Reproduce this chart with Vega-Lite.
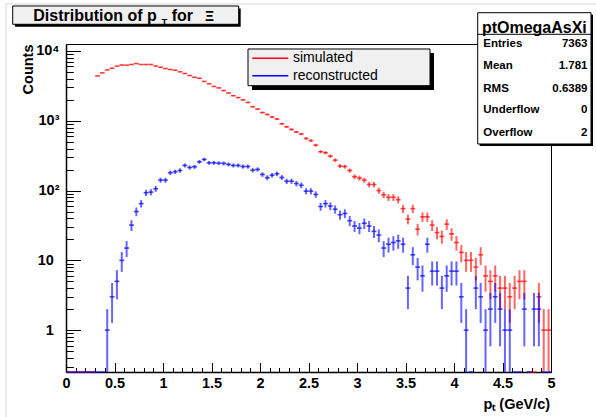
{
"$schema": "https://vega.github.io/schema/vega-lite/v6.json",
"width": 485, "height": 328,
"autosize": {"type": "none"},
"padding": {"left": 66, "top": 44, "right": 45, "bottom": 45},
"background": "white",
"config": {
  "view": {"stroke": "black", "strokeWidth": 1},
  "axis": {"grid": false, "labelFont": "Liberation Sans", "titleFont": "Liberation Sans", "labelColor": "black", "titleColor": "black", "domainColor": "black", "tickColor": "black", "labelFlush": false, "labelOverlap": false},
  "text": {"font": "Liberation Sans", "color": "black"}
},
"datasets": {
"sim": [{"pt":0.025,"n":0},{"pt":0.075,"n":0},{"pt":0.125,"n":0},{"pt":0.175,"n":0},{"pt":0.225,"n":0},{"pt":0.275,"n":0},{"pt":0.325,"n":4400},{"pt":0.375,"n":4850},{"pt":0.425,"n":5350},{"pt":0.475,"n":5650},{"pt":0.525,"n":6050},{"pt":0.575,"n":6300},{"pt":0.625,"n":6250},{"pt":0.675,"n":6400},{"pt":0.725,"n":6600},{"pt":0.775,"n":6400},{"pt":0.825,"n":6400},{"pt":0.875,"n":6400},{"pt":0.925,"n":6100},{"pt":0.975,"n":5850},{"pt":1.025,"n":5600},{"pt":1.075,"n":5420},{"pt":1.125,"n":5300},{"pt":1.175,"n":5030},{"pt":1.225,"n":4760},{"pt":1.275,"n":4450},{"pt":1.325,"n":4200},{"pt":1.375,"n":4060},{"pt":1.425,"n":3660},{"pt":1.475,"n":3390},{"pt":1.525,"n":3100},{"pt":1.575,"n":2960},{"pt":1.625,"n":2710},{"pt":1.675,"n":2500},{"pt":1.725,"n":2290},{"pt":1.775,"n":2150},{"pt":1.825,"n":1990},{"pt":1.875,"n":1830},{"pt":1.925,"n":1590},{"pt":1.975,"n":1470},{"pt":2.025,"n":1310},{"pt":2.075,"n":1230},{"pt":2.125,"n":1130},{"pt":2.175,"n":1060},{"pt":2.225,"n":906},{"pt":2.275,"n":820},{"pt":2.325,"n":751},{"pt":2.375,"n":690},{"pt":2.425,"n":646},{"pt":2.475,"n":558},{"pt":2.525,"n":520},{"pt":2.575,"n":447},{"pt":2.625,"n":360},{"pt":2.675,"n":348},{"pt":2.725,"n":311},{"pt":2.775,"n":273},{"pt":2.825,"n":224},{"pt":2.875,"n":221},{"pt":2.925,"n":194},{"pt":2.975,"n":158},{"pt":3.025,"n":151},{"pt":3.075,"n":141},{"pt":3.125,"n":122},{"pt":3.175,"n":122},{"pt":3.225,"n":100},{"pt":3.275,"n":87},{"pt":3.325,"n":80},{"pt":3.375,"n":80},{"pt":3.425,"n":74},{"pt":3.475,"n":55},{"pt":3.525,"n":39},{"pt":3.575,"n":55},{"pt":3.625,"n":28},{"pt":3.675,"n":42},{"pt":3.725,"n":42},{"pt":3.775,"n":32},{"pt":3.825,"n":25},{"pt":3.875,"n":22},{"pt":3.925,"n":33},{"pt":3.975,"n":24},{"pt":4.025,"n":18},{"pt":4.075,"n":13},{"pt":4.125,"n":10},{"pt":4.175,"n":10},{"pt":4.225,"n":8},{"pt":4.275,"n":12},{"pt":4.325,"n":6},{"pt":4.375,"n":5},{"pt":4.425,"n":6},{"pt":4.475,"n":4},{"pt":4.525,"n":4},{"pt":4.575,"n":3},{"pt":4.625,"n":4},{"pt":4.675,"n":5},{"pt":4.725,"n":5},{"pt":4.775,"n":0},{"pt":4.825,"n":0},{"pt":4.875,"n":3},{"pt":4.925,"n":1},{"pt":4.975,"n":1}],
"rec": [{"pt":0.025,"n":0},{"pt":0.075,"n":0},{"pt":0.125,"n":0},{"pt":0.175,"n":0},{"pt":0.225,"n":0},{"pt":0.275,"n":0},{"pt":0.325,"n":0},{"pt":0.375,"n":0},{"pt":0.425,"n":1},{"pt":0.475,"n":3},{"pt":0.525,"n":5},{"pt":0.575,"n":10},{"pt":0.625,"n":15},{"pt":0.675,"n":32},{"pt":0.725,"n":50},{"pt":0.775,"n":65},{"pt":0.825,"n":93},{"pt":0.875,"n":95},{"pt":0.925,"n":106},{"pt":0.975,"n":141},{"pt":1.025,"n":141},{"pt":1.075,"n":180},{"pt":1.125,"n":186},{"pt":1.175,"n":194},{"pt":1.225,"n":229},{"pt":1.275,"n":214},{"pt":1.325,"n":219},{"pt":1.375,"n":258},{"pt":1.425,"n":279},{"pt":1.475,"n":250},{"pt":1.525,"n":250},{"pt":1.575,"n":247},{"pt":1.625,"n":245},{"pt":1.675,"n":237},{"pt":1.725,"n":229},{"pt":1.775,"n":229},{"pt":1.825,"n":221},{"pt":1.875,"n":221},{"pt":1.925,"n":196},{"pt":1.975,"n":201},{"pt":2.025,"n":170},{"pt":2.075,"n":153},{"pt":2.125,"n":166},{"pt":2.175,"n":174},{"pt":2.225,"n":154},{"pt":2.275,"n":136},{"pt":2.325,"n":136},{"pt":2.375,"n":126},{"pt":2.425,"n":119},{"pt":2.475,"n":98},{"pt":2.525,"n":98},{"pt":2.575,"n":88},{"pt":2.625,"n":59},{"pt":2.675,"n":65},{"pt":2.725,"n":60},{"pt":2.775,"n":54},{"pt":2.825,"n":45},{"pt":2.875,"n":47},{"pt":2.925,"n":37},{"pt":2.975,"n":31},{"pt":3.025,"n":29},{"pt":3.075,"n":34},{"pt":3.125,"n":31},{"pt":3.175,"n":26},{"pt":3.225,"n":23},{"pt":3.275,"n":15},{"pt":3.325,"n":17},{"pt":3.375,"n":18},{"pt":3.425,"n":19},{"pt":3.475,"n":17},{"pt":3.525,"n":4},{"pt":3.575,"n":12},{"pt":3.625,"n":8},{"pt":3.675,"n":6},{"pt":3.725,"n":17},{"pt":3.775,"n":7},{"pt":3.825,"n":7},{"pt":3.875,"n":4},{"pt":3.925,"n":6},{"pt":3.975,"n":7},{"pt":4.025,"n":7},{"pt":4.075,"n":3},{"pt":4.125,"n":1},{"pt":4.175,"n":0},{"pt":4.225,"n":4},{"pt":4.275,"n":3},{"pt":4.325,"n":1},{"pt":4.375,"n":2},{"pt":4.425,"n":3},{"pt":4.475,"n":2},{"pt":4.525,"n":1},{"pt":4.575,"n":1},{"pt":4.625,"n":0},{"pt":4.675,"n":0},{"pt":4.725,"n":2},{"pt":4.775,"n":0},{"pt":4.825,"n":2},{"pt":4.875,"n":2},{"pt":4.925,"n":0},{"pt":4.975,"n":0}]
},
"resolve": {"axis": {"x": "independent", "y": "independent"}},
"layer": [
{"data": {"values": [{}]},
 "mark": {"type": "rect", "fillOpacity": 0, "stroke": "#d6d6d6", "strokeWidth": 1},
 "encoding": {
   "x": {"datum": -0.6186, "type": "quantitative", "axis": null, "scale": {"domain": [0, 5], "nice": false, "zero": false}},
   "x2": {"datum": 6.54},
   "y": {"datum": 47110, "type": "quantitative", "axis": null, "scale": {"type": "log", "domain": [0.2512, 12589], "nice": false}},
   "y2": {"datum": 0.00368}}},
{"data": {"name": "sim"}, "transform": [{"filter": "datum.n == 0"}],
 "mark": {"type": "tick", "orient": "horizontal", "size": 4.85, "thickness": 1.5, "color": "#ff0000"},
 "encoding": {"x": {"field": "pt", "type": "quantitative", "axis": null}, "y": {"datum": 0.2512, "type": "quantitative", "axis": null}}},
{"data": {"name": "rec"}, "transform": [{"filter": "datum.n == 0"}],
 "mark": {"type": "tick", "orient": "horizontal", "size": 4.85, "thickness": 1.5, "color": "#0000ff"},
 "encoding": {"x": {"field": "pt", "type": "quantitative", "axis": null}, "y": {"datum": 0.2512, "type": "quantitative", "axis": null}}},
{"data": {"name": "sim"},
 "transform": [{"filter": "datum.n > 0"}, {"calculate": "max(datum.n - sqrt(datum.n), 0.01)", "as": "lo"}, {"calculate": "datum.n + sqrt(datum.n)", "as": "hi"}],
 "mark": {"type": "rule", "color": "#ff0000", "strokeWidth": 2, "opacity": 0.6, "clip": true},
 "encoding": {
   "x": {"field": "pt", "type": "quantitative", "axis": {"orient": "bottom", "values": [0,0.5,1,1.5,2,2.5,3,3.5,4,4.5,5], "format": "~g", "ticks": false, "tickSize": 0, "domain": true, "domainWidth": 1.5, "labelFontSize": 14.5, "labelFontWeight": "bold", "labelPadding": 4, "title": "pₜ (GeV/c)", "titleFontSize": 14.5, "titleFontWeight": "bold", "titleX": 483.6, "titleY": 36, "titleAlign": "right", "titleBaseline": "alphabetic", "titleAngle": 0}},
   "y": {"field": "lo", "type": "quantitative", "axis": {"orient": "left", "values": [1, 10], "format": "~g", "ticks": false, "tickSize": 0, "domain": true, "domainWidth": 1.5, "labelFontSize": 14.5, "labelFontWeight": "bold", "labelPadding": 12.7, "labelBaseline": "middle", "labelAlign": "right", "title": "Counts", "titleFontSize": 14.5, "titleFontWeight": "bold", "titleAngle": 270, "titleX": -33.3, "titleY": 0, "titleAlign": "right", "titleBaseline": "alphabetic"}},
   "y2": {"field": "hi"}}},
{"data": {"name": "sim"}, "transform": [{"filter": "datum.n > 0"}],
 "mark": {"type": "tick", "orient": "horizontal", "size": 4.85, "thickness": 1.6, "color": "#ff0000"},
 "encoding": {
   "x": {"field": "pt", "type": "quantitative", "axis": {"orient": "bottom", "values": [0,0.5,1,1.5,2,2.5,3,3.5,4,4.5,5], "labels": false, "domain": false, "ticks": true, "tickSize": -9.5, "tickWidth": 1, "title": null}},
   "y": {"field": "n", "type": "quantitative", "axis": {"orient": "left", "values": [100, 1000, 10000], "labelExpr": "datum.value == 100 ? '10²' : datum.value == 1000 ? '10³' : '10⁴'", "ticks": false, "tickSize": 0, "domain": false, "labelFontSize": 14.5, "labelFontWeight": "bold", "labelPadding": 7, "labelBaseline": "middle", "labelAlign": "right", "title": null}}}},
{"data": {"name": "rec"},
 "transform": [{"filter": "datum.n > 0"}, {"calculate": "max(datum.n - sqrt(datum.n), 0.01)", "as": "lo"}, {"calculate": "datum.n + sqrt(datum.n)", "as": "hi"}],
 "mark": {"type": "rule", "color": "#0000ff", "strokeWidth": 2, "opacity": 0.6, "clip": true},
 "encoding": {
   "x": {"field": "pt", "type": "quantitative", "axis": {"orient": "bottom", "values": [0.1,0.2,0.3,0.4,0.6,0.7,0.8,0.9,1.1,1.2,1.3,1.4,1.6,1.7,1.8,1.9,2.1,2.2,2.3,2.4,2.6,2.7,2.8,2.9,3.1,3.2,3.3,3.4,3.6,3.7,3.8,3.9,4.1,4.2,4.3,4.4,4.6,4.7,4.8,4.9], "labels": false, "domain": false, "ticks": true, "tickSize": -4.5, "tickWidth": 1, "title": null}},
   "y": {"field": "lo", "type": "quantitative", "axis": {"orient": "left", "values": [1, 10, 100, 1000, 10000], "labels": false, "domain": false, "ticks": true, "tickSize": -14.5, "tickWidth": 1, "title": null}},
   "y2": {"field": "hi"}}},
{"data": {"name": "rec"}, "transform": [{"filter": "datum.n > 0"}],
 "mark": {"type": "tick", "orient": "horizontal", "size": 4.85, "thickness": 1.6, "color": "#0000ff"},
 "encoding": {
   "x": {"field": "pt", "type": "quantitative", "axis": null},
   "y": {"field": "n", "type": "quantitative", "axis": {"orient": "left", "values": [0.3,0.4,0.5,0.6,0.7,0.8,0.9,2,3,4,5,6,7,8,9,20,30,40,50,60,70,80,90,200,300,400,500,600,700,800,900,2000,3000,4000,5000,6000,7000,8000,9000], "labels": false, "domain": false, "ticks": true, "tickSize": -7.3, "tickWidth": 1, "title": null}}}},
{"data": {"values": [{}]},
 "layer": [
  {"mark": {"type": "rect", "color": "black"},
   "encoding": {"x": {"datum": -0.5258, "type": "quantitative", "axis": null}, "x2": {"datum": 1.8010}, "y": {"datum": 40620, "type": "quantitative", "axis": null}, "y2": {"datum": 22280}}},
  {"mark": {"type": "rect", "fill": "#f0f0f0", "stroke": "black", "strokeWidth": 1},
   "encoding": {"x": {"datum": -0.5495, "type": "quantitative", "axis": null}, "x2": {"datum": 1.7804}, "y": {"datum": 44120, "type": "quantitative", "axis": null}, "y2": {"datum": 24120}}},
  {"mark": {"type": "text", "text": "Distribution of p", "fontSize": 16, "fontWeight": "bold", "align": "left", "baseline": "alphabetic"},
   "encoding": {"x": {"datum": -0.3371, "type": "quantitative", "axis": null}, "y": {"datum": 27160, "type": "quantitative", "axis": null}}},
  {"mark": {"type": "text", "text": "T", "fontSize": 9.5, "fontWeight": "bold", "align": "left", "baseline": "alphabetic"},
   "encoding": {"x": {"datum": 0.9845, "type": "quantitative", "axis": null}, "y": {"datum": 23560, "type": "quantitative", "axis": null}}},
  {"mark": {"type": "text", "text": "for", "fontSize": 16, "fontWeight": "bold", "align": "left", "baseline": "alphabetic"},
   "encoding": {"x": {"datum": 1.0897, "type": "quantitative", "axis": null}, "y": {"datum": 27160, "type": "quantitative", "axis": null}}},
  {"mark": {"type": "text", "text": "Ξ", "fontSize": 14, "fontWeight": "bold", "align": "left", "baseline": "alphabetic"},
   "encoding": {"x": {"datum": 1.433, "type": "quantitative", "axis": null}, "y": {"datum": 27160, "type": "quantitative", "axis": null}}},
  {"mark": {"type": "rect", "color": "black"},
   "encoding": {"x": {"datum": 1.9175, "type": "quantitative", "axis": null}, "x2": {"datum": 3.7938}, "y": {"datum": 9354, "type": "quantitative", "axis": null}, "y2": {"datum": 2760}}},
  {"mark": {"type": "rect", "fill": "#f0f0f0", "stroke": "black", "strokeWidth": 1},
   "encoding": {"x": {"datum": 1.8763, "type": "quantitative", "axis": null}, "x2": {"datum": 3.7526}, "y": {"datum": 10676, "type": "quantitative", "axis": null}, "y2": {"datum": 3181}}},
  {"mark": {"type": "rule", "color": "#ff0000", "strokeWidth": 1.5},
   "encoding": {"x": {"datum": 1.9206, "type": "quantitative", "axis": null}, "x2": {"datum": 2.2918}, "y": {"datum": 7857, "type": "quantitative", "axis": null}}},
  {"mark": {"type": "rule", "color": "#0000ff", "strokeWidth": 1.5},
   "encoding": {"x": {"datum": 1.9206, "type": "quantitative", "axis": null}, "x2": {"datum": 2.2918}, "y": {"datum": 4424, "type": "quantitative", "axis": null}}},
  {"mark": {"type": "text", "text": "simulated", "fontSize": 14, "align": "left", "baseline": "middle"},
   "encoding": {"x": {"datum": 2.3402, "type": "quantitative", "axis": null}, "y": {"datum": 7857, "type": "quantitative", "axis": null}}},
  {"mark": {"type": "text", "text": "reconstructed", "fontSize": 14, "align": "left", "baseline": "middle"},
   "encoding": {"x": {"datum": 2.3402, "type": "quantitative", "axis": null}, "y": {"datum": 4424, "type": "quantitative", "axis": null}}},
  {"mark": {"type": "rect", "color": "black"},
   "encoding": {"x": {"datum": 4.2649, "type": "quantitative", "axis": null}, "x2": {"datum": 5.433}, "y": {"datum": 33100, "type": "quantitative", "axis": null}, "y2": {"datum": 435}}},
  {"mark": {"type": "rect", "fill": "white", "stroke": "black", "strokeWidth": 1},
   "encoding": {"x": {"datum": 4.2443, "type": "quantitative", "axis": null}, "x2": {"datum": 5.4124}, "y": {"datum": 35370, "type": "quantitative", "axis": null}, "y2": {"datum": 464.6}}},
  {"mark": {"type": "rule", "color": "black", "strokeWidth": 1},
   "encoding": {"x": {"datum": 4.2443, "type": "quantitative", "axis": null}, "x2": {"datum": 5.4124}, "y": {"datum": 17340, "type": "quantitative", "axis": null}}},
  {"mark": {"type": "text", "text": "ptOmegaAsXi", "fontSize": 16, "fontWeight": "bold", "align": "center", "baseline": "alphabetic"},
   "encoding": {"x": {"datum": 4.8284, "type": "quantitative", "axis": null}, "y": {"datum": 18280, "type": "quantitative", "axis": null}}},
  {"mark": {"type": "text", "text": "Entries", "fontSize": 11.5, "fontWeight": "bold", "align": "left", "baseline": "alphabetic"},
   "encoding": {"x": {"datum": 4.3021, "type": "quantitative", "axis": null}, "y": {"datum": 11290, "type": "quantitative", "axis": null}}},
  {"mark": {"type": "text", "text": "Mean", "fontSize": 11.5, "fontWeight": "bold", "align": "left", "baseline": "alphabetic"},
   "encoding": {"x": {"datum": 4.3021, "type": "quantitative", "axis": null}, "y": {"datum": 5464, "type": "quantitative", "axis": null}}},
  {"mark": {"type": "text", "text": "RMS", "fontSize": 11.5, "fontWeight": "bold", "align": "left", "baseline": "alphabetic"},
   "encoding": {"x": {"datum": 4.3021, "type": "quantitative", "axis": null}, "y": {"datum": 2609, "type": "quantitative", "axis": null}}},
  {"mark": {"type": "text", "text": "Underflow", "fontSize": 11.5, "fontWeight": "bold", "align": "left", "baseline": "alphabetic"},
   "encoding": {"x": {"datum": 4.3021, "type": "quantitative", "axis": null}, "y": {"datum": 1279, "type": "quantitative", "axis": null}}},
  {"mark": {"type": "text", "text": "Overflow", "fontSize": 11.5, "fontWeight": "bold", "align": "left", "baseline": "alphabetic"},
   "encoding": {"x": {"datum": 4.3021, "type": "quantitative", "axis": null}, "y": {"datum": 605, "type": "quantitative", "axis": null}}},
  {"mark": {"type": "text", "text": "7363", "fontSize": 11.5, "fontWeight": "bold", "align": "right", "baseline": "alphabetic"},
   "encoding": {"x": {"datum": 5.3763, "type": "quantitative", "axis": null}, "y": {"datum": 11290, "type": "quantitative", "axis": null}}},
  {"mark": {"type": "text", "text": "1.781", "fontSize": 11.5, "fontWeight": "bold", "align": "right", "baseline": "alphabetic"},
   "encoding": {"x": {"datum": 5.3763, "type": "quantitative", "axis": null}, "y": {"datum": 5464, "type": "quantitative", "axis": null}}},
  {"mark": {"type": "text", "text": "0.6389", "fontSize": 11.5, "fontWeight": "bold", "align": "right", "baseline": "alphabetic"},
   "encoding": {"x": {"datum": 5.3763, "type": "quantitative", "axis": null}, "y": {"datum": 2609, "type": "quantitative", "axis": null}}},
  {"mark": {"type": "text", "text": "0", "fontSize": 11.5, "fontWeight": "bold", "align": "right", "baseline": "alphabetic"},
   "encoding": {"x": {"datum": 5.3763, "type": "quantitative", "axis": null}, "y": {"datum": 1279, "type": "quantitative", "axis": null}}},
  {"mark": {"type": "text", "text": "2", "fontSize": 11.5, "fontWeight": "bold", "align": "right", "baseline": "alphabetic"},
   "encoding": {"x": {"datum": 5.3763, "type": "quantitative", "axis": null}, "y": {"datum": 605, "type": "quantitative", "axis": null}}}
 ]}
]
}
